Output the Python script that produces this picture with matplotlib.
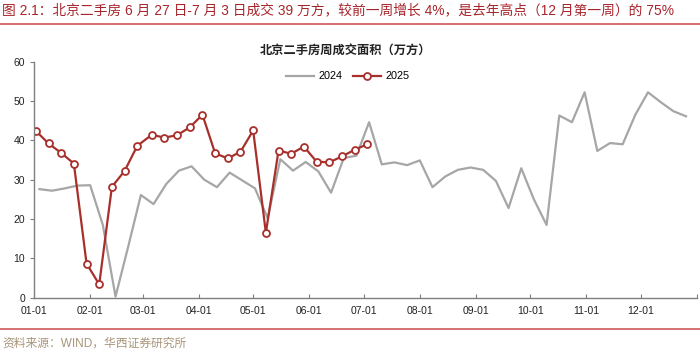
import matplotlib
matplotlib.use("Agg")
import matplotlib.pyplot as plt
import pandas as pd

plt.rcParams['font.family'] = ['Liberation Sans', 'Noto Sans CJK SC', 'DejaVu Sans']

# weekly data, weeks ending on Thursday
dates_2024 = pd.date_range('2024-01-04', periods=52, freq='7D')
vals_2024 = [27.6, 27.2, 27.8, 28.5, 28.6, 18.5, 0.3, 13.0, 26.1, 23.8,
             28.9, 32.3, 33.4, 30.0, 28.1, 31.8, 29.8, 27.8, 20.2, 35.2,
             32.3, 34.5, 32.1, 26.7, 35.5, 36.1, 44.6, 33.9, 34.4, 33.7,
             34.9, 28.1, 30.8, 32.5, 33.1, 32.5, 29.7, 22.8, 32.9, 25.0,
             18.5, 46.3, 44.6, 52.2, 37.3, 39.3, 39.0, 46.5, 52.2, 49.7,
             47.4, 46.1]

dates_2025 = pd.date_range('2025-01-02', periods=27, freq='7D')
vals_2025 = [42.4, 39.2, 36.8, 34.1, 8.7, 3.4, 28.2, 32.2, 38.6, 41.4,
             40.7, 41.3, 43.3, 46.5, 36.7, 35.4, 37.1, 42.5, 16.5, 37.4,
             36.6, 38.4, 34.6, 34.4, 35.9, 37.6, 39.0]

# put 2025 on the same month-day axis as 2024
x_2025 = [d.replace(year=2024) for d in dates_2025]

title = '图 2.1：北京二手房 6 月 27 日-7 月 3 日成交 39 万方，较前一周增长 4%，是去年高点（12 月第一周）的 75%'
chart_title = '北京二手房周成交面积（万方）'
source = '资料来源：WIND，华西证券研究所'

red = '#a8302c'
grey = '#a6a6a6'

fig = plt.figure(figsize=(7, 3.52), dpi=100)
ax = fig.add_axes([0.0486, 0.154, 0.947, 0.671])

ax.plot(dates_2024, vals_2024, color=grey, lw=1.6, label='2024')
ax.plot(x_2025, vals_2025, color=red, lw=1.6, marker='o', ms=5,
        mfc='white', mec=red, mew=1.3, label='2025')

ax.set_xlim(pd.Timestamp('2024-01-01'), pd.Timestamp('2025-01-01'))
ax.set_ylim(0, 60)
ax.set_yticks(range(0, 61, 10))
ticks = list(pd.date_range('2024-01-01', periods=13, freq='MS'))
ax.set_xticks(ticks)
ax.set_xticklabels([t.strftime('%m-%d') for t in ticks[:-1]] + [''])

for s in ['top', 'right']:
    ax.spines[s].set_visible(False)
for s in ['left', 'bottom']:
    ax.spines[s].set_color('#7f7f7f')
    ax.spines[s].set_linewidth(1.0)
ax.tick_params(axis='x', direction='in', length=3, color='#7f7f7f',
               labelsize=7.5, pad=6, labelcolor='#222222')
ax.tick_params(axis='y', direction='out', length=3, color='#7f7f7f',
               labelsize=7.5, labelcolor='#222222')

fig.legend(loc='center', bbox_to_anchor=(0.497, 0.783), ncol=2, frameon=False,
           fontsize=7.8, handlelength=2.6, columnspacing=1.0, handletextpad=0.4)

fig.text(0.003, 0.972, title, color='#a8242b', fontsize=9.9, va='center', ha='left',
         family=['Liberation Sans', 'Noto Sans CJK SC'])
fig.add_artist(plt.Line2D([0, 1], [0.932, 0.932], color='#d0585c', lw=1.2))
fig.text(0.494, 0.858, chart_title, fontsize=8.8, va='center', ha='center',
         weight='bold', family=['Noto Sans CJK SC', 'DejaVu Sans'], color='#222222')
fig.add_artist(plt.Line2D([0, 1], [0.065, 0.065], color='#d0585c', lw=1.2))
fig.text(0.003, 0.025, source, fontsize=8.5, va='center', ha='left',
         color='#a8957a', family=['Liberation Sans', 'Noto Sans CJK SC'])

fig.savefig('out.png', dpi=100)
